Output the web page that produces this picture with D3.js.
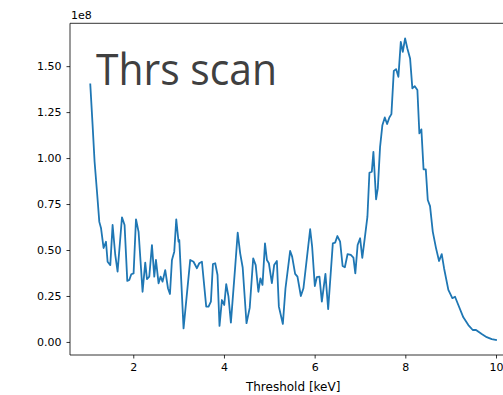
<!DOCTYPE html>
<html>
<head>
<meta charset="utf-8">
<script src="https://cdn.jsdelivr.net/npm/d3@7/dist/d3.min.js"></script>
<style>
  html, body { margin: 0; padding: 0; background: #fff; }
  svg { display: block; }
</style>
</head>
<body>
<svg id="chart" width="503" height="395"></svg>
<script>
// Threshold scan: threshold (keV) vs counts (in units of 1e8)
const thresholdKeV = [
  1.052, 1.103, 1.147, 1.200, 1.251, 1.288, 1.345, 1.398, 1.434, 1.493,
  1.544, 1.603, 1.654, 1.751, 1.808, 1.868, 1.912, 1.956, 2.007, 2.060,
  2.117, 2.205, 2.264, 2.302, 2.353, 2.412, 2.463, 2.500, 2.558, 2.602,
  2.646, 2.705, 2.765, 2.809, 2.853, 2.904, 2.948, 2.998, 3.015, 3.109,
  3.256, 3.329, 3.404, 3.455, 3.514, 3.609, 3.660, 3.712, 3.757, 3.807,
  3.858, 3.902, 3.955, 4.006, 4.050, 4.100, 4.153, 4.248, 4.303, 4.358,
  4.413, 4.497, 4.568, 4.645, 4.700, 4.759, 4.804, 4.850, 4.905, 4.947,
  4.991, 5.057, 5.107, 5.167, 5.211, 5.299, 5.357, 5.460, 5.504, 5.570,
  5.621, 5.696, 5.753, 5.828, 5.901, 5.945, 6.004, 6.048, 6.106, 6.159,
  6.238, 6.298, 6.401, 6.452, 6.502, 6.562, 6.617, 6.666, 6.727, 6.798,
  6.855, 6.897, 6.948, 7.003, 7.051, 7.109, 7.164, 7.208, 7.261, 7.296,
  7.355, 7.393, 7.443, 7.494, 7.547, 7.598, 7.648, 7.693, 7.746, 7.796,
  7.847, 7.900, 7.944, 7.995, 8.045, 8.105, 8.155, 8.208, 8.266, 8.310,
  8.354, 8.402, 8.451, 8.495, 8.545, 8.605, 8.678, 8.744, 8.803, 8.854,
  8.949, 9.037, 9.096, 9.169, 9.279, 9.390, 9.487, 9.559, 9.685, 9.795,
  9.905, 10.000
];
const counts1e8 = [
  1.401, 1.179, 0.980, 0.817, 0.653, 0.620, 0.511, 0.545, 0.436, 0.418,
  0.636, 0.473, 0.382, 0.678, 0.636, 0.332, 0.337, 0.368, 0.373, 0.667,
  0.599, 0.273, 0.431, 0.342, 0.355, 0.527, 0.355, 0.446, 0.319, 0.355,
  0.328, 0.391, 0.292, 0.261, 0.446, 0.491, 0.667, 0.545, 0.554, 0.074,
  0.446, 0.436, 0.401, 0.428, 0.436, 0.192, 0.192, 0.219, 0.424, 0.428,
  0.364, 0.087, 0.228, 0.201, 0.314, 0.246, 0.105, 0.410, 0.594, 0.482,
  0.405, 0.102, 0.185, 0.455, 0.418, 0.273, 0.346, 0.310, 0.536, 0.446,
  0.428, 0.320, 0.418, 0.440, 0.192, 0.098, 0.292, 0.495, 0.464, 0.370,
  0.355, 0.250, 0.292, 0.455, 0.613, 0.518, 0.304, 0.352, 0.355, 0.219,
  0.370, 0.178, 0.536, 0.540, 0.576, 0.545, 0.413, 0.406, 0.478, 0.473,
  0.459, 0.373, 0.527, 0.564, 0.457, 0.572, 0.681, 0.920, 0.926, 1.034,
  0.776, 0.835, 1.061, 1.179, 1.221, 1.185, 1.221, 1.239, 1.474, 1.484,
  1.442, 1.632, 1.578, 1.651, 1.596, 1.542, 1.379, 1.391, 1.370, 1.134,
  1.156, 0.939, 0.939, 0.772, 0.739, 0.600, 0.509, 0.440, 0.478, 0.401,
  0.283, 0.238, 0.246, 0.201, 0.134, 0.092, 0.065, 0.065, 0.043, 0.026,
  0.015, 0.011
];
const xTickValues = [2, 4, 6, 8, 10];
const yTickValues = [0.00, 0.25, 0.50, 0.75, 1.00, 1.25, 1.50];
const xAxisTitle = "Threshold [keV]";
const yOffsetLabel = "1e8";
const annotation = "Thrs scan";

const data = thresholdKeV.map((t, i) => ({ t, c: counts1e8[i] }));

// Plot box; the right spine sits just past the visible canvas
const plot = { left: 70, right: 516.3, top: 23.3, bottom: 355 };

// 5% padding around the data extent on both axes
function padded([lo, hi]) {
  const m = (hi - lo) * 0.05;
  return [lo - m, hi + m];
}
const x = d3.scaleLinear()
  .domain(padded(d3.extent(thresholdKeV)))
  .range([plot.left, plot.right]);
const y = d3.scaleLinear()
  .domain(padded(d3.extent(counts1e8)))
  .range([plot.bottom, plot.top]);

const svg = d3.select("#chart");
const tickFont = "'DejaVu Sans', sans-serif";

svg.append("defs").append("clipPath").attr("id", "plotClip")
  .append("rect")
  .attr("x", plot.left).attr("y", plot.top)
  .attr("width", plot.right - plot.left).attr("height", plot.bottom - plot.top);

// Data line
svg.append("path")
  .datum(data)
  .attr("clip-path", "url(#plotClip)")
  .attr("fill", "none")
  .attr("stroke", "#1f77b4")
  .attr("stroke-width", 1.8)
  .attr("stroke-linejoin", "round")
  .attr("stroke-linecap", "square")
  .attr("d", d3.line().x(d => x(d.t)).y(d => y(d.c)));

// Axes
const xAxis = d3.axisBottom(x)
  .tickValues(xTickValues)
  .tickFormat(d3.format("d"))
  .tickSize(3.5).tickPadding(5);
const yAxis = d3.axisLeft(y)
  .tickValues(yTickValues)
  .tickFormat(d3.format(".2f"))
  .tickSize(3.5).tickPadding(5);

const gx = svg.append("g")
  .attr("transform", `translate(0,${plot.bottom})`)
  .call(xAxis);
const gy = svg.append("g")
  .attr("transform", `translate(${plot.left},0)`)
  .call(yAxis);

[gx, gy].forEach(g => {
  g.select(".domain").remove();
  g.selectAll(".tick line").attr("stroke", "#000").attr("stroke-width", 0.8);
  g.selectAll(".tick text")
    .attr("fill", "#000")
    .style("font-family", tickFont)
    .style("font-size", "11px");
});
gx.selectAll(".tick text").attr("dy", "0.71em");
gy.selectAll(".tick text").attr("dy", "0.34em");

// Spines
const spine = svg.append("g")
  .attr("fill", "none").attr("stroke", "#000").attr("stroke-width", 0.8);
spine.append("line").attr("x1", plot.left).attr("x2", plot.left)
  .attr("y1", plot.top).attr("y2", plot.bottom);
spine.append("line").attr("x1", plot.left).attr("x2", plot.right)
  .attr("y1", plot.bottom).attr("y2", plot.bottom);
spine.append("line").attr("x1", plot.left).attr("x2", plot.right)
  .attr("y1", plot.top).attr("y2", plot.top);
spine.append("line").attr("x1", plot.right).attr("x2", plot.right)
  .attr("y1", plot.top).attr("y2", plot.bottom);

// Axis title and scale offset
svg.append("text")
  .attr("x", (plot.left + plot.right) / 2)
  .attr("y", 391)
  .attr("text-anchor", "middle")
  .style("font-family", tickFont)
  .style("font-size", "12px")
  .attr("fill", "#000")
  .text(xAxisTitle);

svg.append("text")
  .attr("x", plot.left + 1)
  .attr("y", 18.5)
  .style("font-family", tickFont)
  .style("font-size", "11px")
  .attr("fill", "#000")
  .text(yOffsetLabel);

// Large annotation in the upper left of the plot
svg.append("text")
  .attr("x", 96)
  .attr("y", 85)
  .attr("textLength", 181)
  .attr("lengthAdjust", "spacingAndGlyphs")
  .style("font-family", "'Open Sans', sans-serif")
  .style("font-size", "44px")
  .attr("fill", "#404040")
  .text(annotation);
</script>
</body>
</html>
